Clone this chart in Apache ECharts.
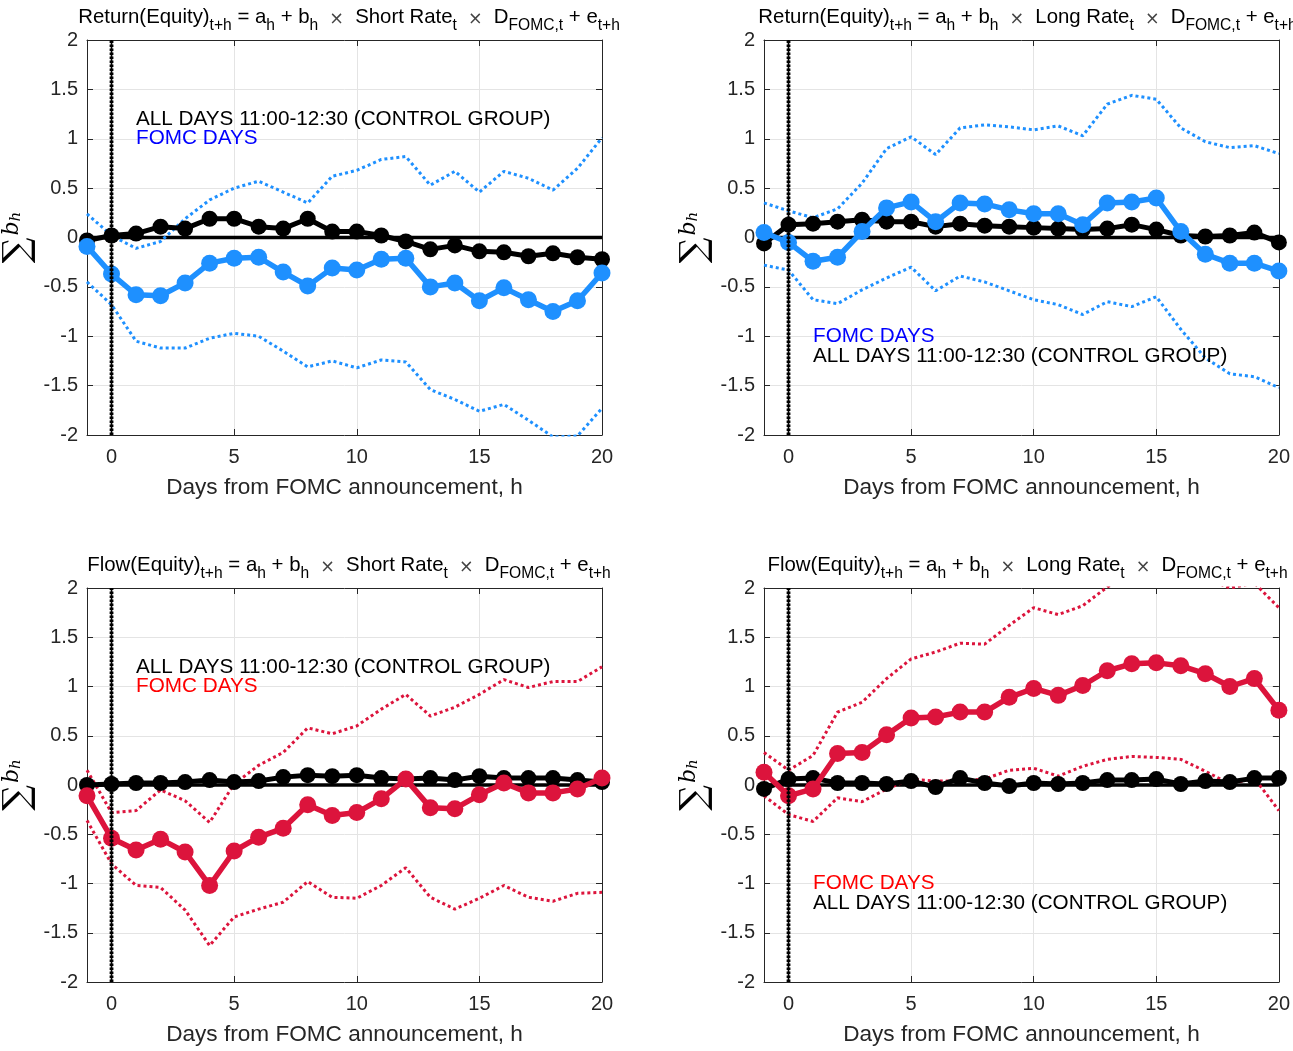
<!DOCTYPE html>
<html><head><meta charset="utf-8">
<script src="https://cdn.jsdelivr.net/npm/echarts@6/dist/echarts.min.js"></script>
<style>html,body{margin:0;padding:0;background:#fff}#c{width:1293px;height:1051px}</style>
</head><body><div id="c"></div><script>
// ---------- data ----------
const horizons = [-1,0,1,2,3,4,5,6,7,8,9,10,11,12,13,14,15,16,17,18,19,20];
const xTicks = [0,5,10,15,20];
const xRange = [-1, 20];
const yRange = [-2, 2];
const eventDay = 0;

// Return(Equity) ~ Short Rate
const tlCtrl = [-0.03,0.02,0.04,0.11,0.09,0.19,0.19,0.11,0.09,0.19,0.06,0.06,0.02,-0.04,-0.12,-0.08,-0.14,-0.15,-0.19,-0.16,-0.20,-0.22];
const tlMean = [-0.09,-0.37,-0.58,-0.59,-0.46,-0.26,-0.21,-0.20,-0.35,-0.49,-0.31,-0.33,-0.22,-0.21,-0.50,-0.46,-0.64,-0.51,-0.63,-0.75,-0.64,-0.36];
const tlUp   = [0.24,0.02,-0.11,-0.04,0.19,0.38,0.50,0.57,0.46,0.35,0.62,0.68,0.79,0.82,0.53,0.67,0.46,0.67,0.60,0.48,0.70,1.01];
const tlLo   = [-0.45,-0.68,-1.05,-1.12,-1.12,-1.02,-0.97,-1.00,-1.15,-1.31,-1.25,-1.32,-1.24,-1.26,-1.54,-1.64,-1.76,-1.69,-1.85,-2.02,-2.01,-1.73];

// Return(Equity) ~ Long Rate
const trCtrl = [-0.06,0.13,0.14,0.16,0.18,0.16,0.16,0.11,0.14,0.12,0.11,0.10,0.09,0.08,0.09,0.13,0.08,0.02,0.01,0.02,0.05,-0.05];
const trMean = [0.05,-0.05,-0.24,-0.20,0.06,0.30,0.36,0.16,0.35,0.34,0.28,0.24,0.24,0.13,0.35,0.36,0.40,0.06,-0.17,-0.26,-0.26,-0.34];
const trUp   = [0.35,0.27,0.20,0.29,0.55,0.90,1.02,0.84,1.11,1.14,1.12,1.09,1.13,1.03,1.35,1.44,1.40,1.11,0.97,0.91,0.93,0.85];
const trLo   = [-0.28,-0.33,-0.63,-0.67,-0.53,-0.41,-0.30,-0.54,-0.39,-0.45,-0.54,-0.63,-0.68,-0.78,-0.65,-0.70,-0.60,-0.93,-1.22,-1.38,-1.41,-1.52];

// Flow(Equity) ~ Short Rate
const blCtrl = [0.00,0.01,0.02,0.02,0.03,0.05,0.03,0.04,0.08,0.10,0.09,0.10,0.07,0.06,0.07,0.05,0.09,0.07,0.07,0.07,0.05,0.03];
const blMean = [-0.11,-0.54,-0.66,-0.55,-0.68,-1.02,-0.67,-0.53,-0.44,-0.20,-0.31,-0.28,-0.14,0.06,-0.23,-0.24,-0.10,0.02,-0.08,-0.08,-0.04,0.07];
const blUp   = [0.15,-0.28,-0.26,-0.05,-0.16,-0.38,0.01,0.20,0.33,0.58,0.52,0.60,0.77,0.92,0.70,0.79,0.92,1.07,0.99,1.05,1.05,1.20];
const blLo   = [-0.36,-0.80,-1.02,-1.04,-1.27,-1.63,-1.34,-1.26,-1.19,-0.98,-1.14,-1.15,-1.02,-0.84,-1.14,-1.26,-1.15,-1.02,-1.14,-1.18,-1.10,-1.09];

// Flow(Equity) ~ Long Rate
const brCtrl = [-0.04,0.06,0.07,0.02,0.02,0.01,0.04,-0.02,0.07,0.02,-0.01,0.02,0.01,0.02,0.05,0.05,0.06,0.01,0.04,0.03,0.07,0.07];
const brMean = [0.13,-0.11,-0.04,0.32,0.33,0.51,0.68,0.69,0.74,0.74,0.89,0.98,0.91,1.01,1.16,1.23,1.24,1.21,1.13,1.00,1.08,0.76];
const brUp   = [0.33,0.15,0.30,0.74,0.84,1.08,1.28,1.35,1.44,1.43,1.62,1.80,1.73,1.82,2.01,2.15,2.20,2.15,2.10,2.00,2.05,1.80];
const brLo   = [-0.11,-0.30,-0.37,-0.13,-0.17,-0.04,0.06,0.04,0.04,0.06,0.15,0.17,0.09,0.19,0.26,0.29,0.28,0.26,0.14,0.01,0.07,-0.26];

const ctrlText = 'ALL DAYS 11:00-12:30 (CONTROL GROUP)';
const fomcText = 'FOMC DAYS';
const xName = 'Days from FOMC announcement, h';

// ---------- styling ----------
const FONT = '"Liberation Sans", Arial, Helvetica, sans-serif';
const BLUE = '#1e90ff', RED = '#dc143c';
const AX = '#262626', GRID = '#e4e4e4';

const panels = [
  {ctrl: tlCtrl, mean: tlMean, up: tlUp, lo: tlLo, color: BLUE, tcol: '#0000ff', dep: 'Return(Equity)', rate: 'Short Rate', ctrlY: 1.2, fomcY: 1.0},
  {ctrl: trCtrl, mean: trMean, up: trUp, lo: trLo, color: BLUE, tcol: '#0000ff', dep: 'Return(Equity)', rate: 'Long Rate', ctrlY: -1.2, fomcY: -1.0},
  {ctrl: blCtrl, mean: blMean, up: blUp, lo: blLo, color: RED, tcol: '#ff0000', dep: 'Flow(Equity)', rate: 'Short Rate', ctrlY: 1.2, fomcY: 1.0},
  {ctrl: brCtrl, mean: brMean, up: brUp, lo: brLo, color: RED, tcol: '#ff0000', dep: 'Flow(Equity)', rate: 'Long Rate', ctrlY: -1.2, fomcY: -1.0},
];
const grids = [
  {left: 86, top: 40, width: 516, height: 395},
  {left: 764, top: 40, width: 517, height: 395},
  {left: 86, top: 588, width: 516, height: 394},
  {left: 764, top: 588, width: 517, height: 394},
];

const pts = vals => vals.map((v, i) => [horizons[i], v]);

const titleRich = {
  n: {fontSize: 20.4, fontFamily: FONT, fontWeight: 'normal', color: '#000', verticalAlign: 'top', lineHeight: 23},
  s: {fontSize: 15.6, fontFamily: FONT, fontWeight: 'normal', color: '#000', verticalAlign: 'top', padding: [11, 0, 0, 0], lineHeight: 17},
  x: {fontSize: 17.5, fontFamily: '"DejaVu Sans", sans-serif', fontWeight: 'normal', color: '#444', verticalAlign: 'top', padding: [3, 0, 0, 0], lineHeight: 19}
};

const xAxis = [], yAxis = [], series = [], title = [];
panels.forEach((p, k) => {
  const g = grids[k];
  title.push({
    left: g.left + g.width / 2, top: 2 + (k >= 2 ? 548 : 0), textAlign: 'center',
    text: `{n|${p.dep}}{s|t+h}{n| = a}{s|h}{n| + b}{s|h}{x|  ×  }{n|${p.rate}}{s|t}{x|  ×  }{n|D}{s|FOMC,t}{n| + e}{s|t+h}`,
    textStyle: {fontWeight: 'normal', rich: titleRich}
  });
  xAxis.push({
    type: 'value', gridIndex: k, min: xRange[0], max: xRange[1], position: 'bottom',
    axisLine: {show: true, onZero: false, lineStyle: {color: AX, width: 1}},
    axisTick: {show: true, inside: true, length: 6, customValues: xTicks, lineStyle: {color: AX}},
    axisLabel: {customValues: xTicks, fontSize: 20, fontFamily: FONT, color: AX, margin: 12},
    splitLine: {show: true, lineStyle: {color: GRID, width: 1}},
    name: xName, nameLocation: 'middle', nameGap: 41,
    nameTextStyle: {fontSize: 22.6, fontFamily: FONT, color: AX}
  });
  xAxis.push({
    type: 'value', gridIndex: k, min: xRange[0], max: xRange[1], position: 'top',
    axisLine: {show: true, onZero: false, lineStyle: {color: AX, width: 1}},
    axisTick: {show: true, inside: true, length: 6, customValues: xTicks, lineStyle: {color: AX}},
    axisLabel: {show: false}, splitLine: {show: false}
  });
  yAxis.push({
    type: 'value', gridIndex: k, min: yRange[0], max: yRange[1], interval: 0.5, position: 'left',
    axisLine: {show: true, onZero: false, lineStyle: {color: AX, width: 1}},
    axisTick: {show: true, inside: true, length: 6, lineStyle: {color: AX}},
    axisLabel: {fontSize: 20, fontFamily: FONT, color: AX, margin: 9, formatter: v => String(v)},
    splitLine: {show: true, lineStyle: {color: GRID, width: 1}},
    name: '{sig|∑}{b|b}{h|h}', nameLocation: 'middle', nameRotate: 90, nameGap: 50,
    nameTextStyle: {rich: {
      sig: {fontSize: 36, fontFamily: '"DejaVu Serif", serif', color: '#000', verticalAlign: 'middle'},
      b: {fontSize: 22, fontFamily: '"DejaVu Serif", serif', fontStyle: 'italic', color: '#000', padding: [0, 0, 14, 2]},
      h: {fontSize: 15, fontFamily: '"DejaVu Serif", serif', fontStyle: 'italic', color: '#000', padding: [0, 0, 6, 0]}
    }}
  });
  yAxis.push({
    type: 'value', gridIndex: k, min: yRange[0], max: yRange[1], interval: 0.5, position: 'right',
    axisLine: {show: true, onZero: false, lineStyle: {color: AX, width: 1}},
    axisTick: {show: true, inside: true, length: 6, lineStyle: {color: AX}},
    axisLabel: {show: false}, splitLine: {show: false}
  });
  const xi = 2 * k, yi = 2 * k;
  const base = {xAxisIndex: xi, yAxisIndex: yi, silent: true, animation: false};
  // zero line
  series.push({...base, type: 'line', z: 1, symbol: 'none', data: [[xRange[0], 0], [xRange[1], 0]],
    lineStyle: {color: '#000', width: 3.5}});
  // confidence bands
  [p.up, p.lo].forEach(b => series.push({...base, type: 'line', z: 2, symbol: 'none', data: pts(b),
    lineStyle: {color: p.color, width: 3, type: [3, 3]}}));
  const ctrlS = {...base, type: 'line', z: 3, data: pts(p.ctrl), symbol: 'circle', symbolSize: 16,
    itemStyle: {color: '#000'}, lineStyle: {color: '#000', width: 5}};
  const meanS = {...base, type: 'line', z: 4, data: pts(p.mean), symbol: 'circle', symbolSize: 17,
    itemStyle: {color: p.color}, lineStyle: {color: p.color, width: 5.5}};
  series.push(ctrlS, meanS);
  // event-day vertical line (black dotted, thick)
  series.push({...base, type: 'line', z: 5, symbol: 'none', data: [[eventDay, yRange[0]], [eventDay, yRange[1]]],
    lineStyle: {color: '#000', width: 1.6}});
  series.push({...base, type: 'line', z: 6, symbol: 'none', data: [[eventDay, yRange[0]], [eventDay, yRange[1]]],
    lineStyle: {color: '#000', width: 3.8, type: [2.5, 1.5]}});
  // annotations
  [[ctrlText, '#000', p.ctrlY], [fomcText, p.tcol, p.fomcY]].forEach(([t, c, y]) => series.push({
    ...base, type: 'scatter', z: 7, symbolSize: 0, data: [[1, y]], itemStyle: {color: 'transparent', opacity: 1},
    label: {show: true, position: 'right', distance: 0, formatter: t, color: c, opacity: 1, fontSize: 20.7, fontFamily: FONT}
  }));
});

const chart = echarts.init(document.getElementById('c'), null, {renderer: 'canvas'});
chart.setOption({animation: false, backgroundColor: '#fff', title, grid: grids, xAxis, yAxis, series});
</script></body></html>
